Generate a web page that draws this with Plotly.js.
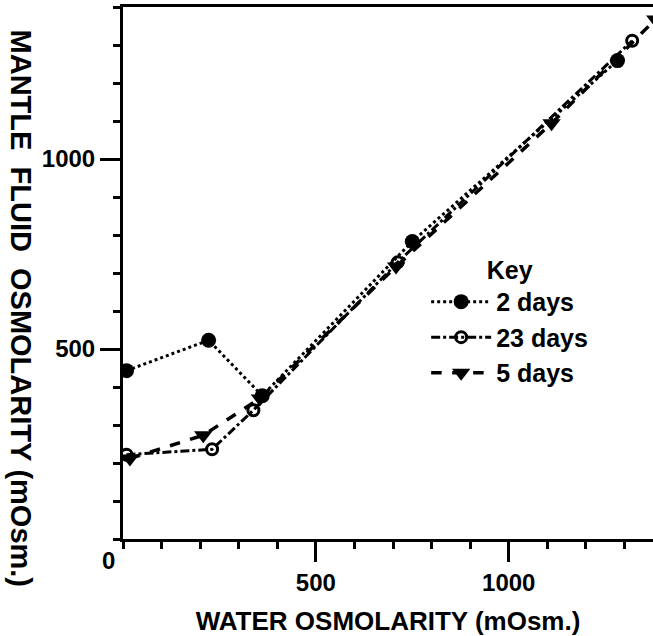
<!DOCTYPE html>
<html>
<head>
<meta charset="utf-8">
<script src="https://cdn.plot.ly/plotly-3.0.1.min.js"></script>
<style>html,body{margin:0;padding:0;background:#fff;}#chart{width:653px;height:636px;}</style>
</head>
<body>
<div id="chart"></div>
<script>
// Data
const seriesNames = ["2 days", "23 days", "5 days"];
const water2 = [9, 222, 361, 750, 1282];
const mantle2 = [443, 523, 377, 783, 1259];
const water23 = [9, 231, 338, 712, 1320];
const mantle23 = [222, 236, 339, 728, 1311];
const water5 = [18, 208, 355, 708, 1111, 1380];
const mantle5 = [212, 273, 370, 717, 1094, 1367];
const xTickVals = [500, 1000];
const xTickText = ["500", "1000"];
const yTickVals = [500, 1000];
const yTickText = ["500", "1000"];

const FONT = '"Liberation Sans", Arial, sans-serif';

const traces = [
  {x: water2, y: mantle2, name: seriesNames[0], mode: 'lines+markers',
   line: {color: '#000', width: 3, dash: 'dot'},
   marker: {symbol: 'circle', size: 15, color: '#000'}},
  {x: water23, y: mantle23, name: seriesNames[1], mode: 'lines+markers',
   line: {color: '#000', width: 3, dash: 'dashdot'},
   marker: {symbol: 'circle-open', size: 11, color: '#000', line: {width: 3, color: '#000'}}},
  {x: water5, y: mantle5, name: seriesNames[2], mode: 'lines+markers',
   line: {color: '#000', width: 3.5, dash: 'dash'},
   marker: {symbol: 'triangle-down', size: 16, color: '#000'}}
];

const layout = {
  width: 653, height: 636,
  margin: {l: 123, r: 0, t: 7, b: 97},
  paper_bgcolor: '#fff', plot_bgcolor: '#fff',
  font: {family: FONT, color: '#000', size: 24, weight: 'bold'},
  showlegend: true,
  legend: {
    x: 0.572, y: 0.55, xanchor: 'left', yanchor: 'top',
    bgcolor: 'rgba(0,0,0,0)',
    font: {family: FONT, size: 25, color: '#000', weight: 'bold'},
    title: {text: 'Key', side: 'top center', font: {family: FONT, size: 25, color: '#000', weight: 'bold'}},
    itemwidth: 60, tracegroupgap: 0
  },
  xaxis: {
    range: [0, 1374], showgrid: false, zeroline: false,
    showline: true, linewidth: 3, linecolor: '#000', mirror: true,
    ticks: 'outside', ticklen: 20, tickwidth: 3, tickcolor: '#000',
    tickvals: xTickVals, ticktext: xTickText,
    tickfont: {family: FONT, size: 24, color: '#000', weight: 'bold'},
    minor: {dtick: 100, ticks: 'outside', ticklen: 7, tickwidth: 3, tickcolor: '#000', showgrid: false},
    title: {text: 'WATER OSMOLARITY (mOsm.)', standoff: 20,
            font: {family: FONT, size: 26, color: '#000', weight: 'bold'}}
  },
  yaxis: {
    range: [0, 1400], showgrid: false, zeroline: false,
    showline: true, linewidth: 3, linecolor: '#000',
    ticks: 'outside', ticklen: 20, tickwidth: 3, tickcolor: '#000',
    tickvals: yTickVals, ticktext: yTickText,
    tickfont: {family: FONT, size: 24, color: '#000', weight: 'bold'},
    minor: {dtick: 100, ticks: 'outside', ticklen: 7, tickwidth: 3, tickcolor: '#000', showgrid: false},
    title: {text: ''}
  },
  annotations: [
    {text: 'MANTLE\u00A0\u00A0FLUID\u00A0\u00A0OSMOLARITY\u00A0(mOsm.)', textangle: 90,
     xref: 'paper', yref: 'paper', x: -120/530, y: 0.435, xanchor: 'left', yanchor: 'middle',
     showarrow: false, font: {family: FONT, size: 29, color: '#000', weight: 'bold'}},
    {text: '0', xref: 'paper', yref: 'paper', x: -0.028, y: -0.04, xanchor: 'center', yanchor: 'middle',
     showarrow: false, font: {family: FONT, size: 24, color: '#000', weight: 'bold'}}
  ]
};

Plotly.newPlot('chart', traces, layout, {displayModeBar: false, staticPlot: true});
</script>
</body>
</html>
